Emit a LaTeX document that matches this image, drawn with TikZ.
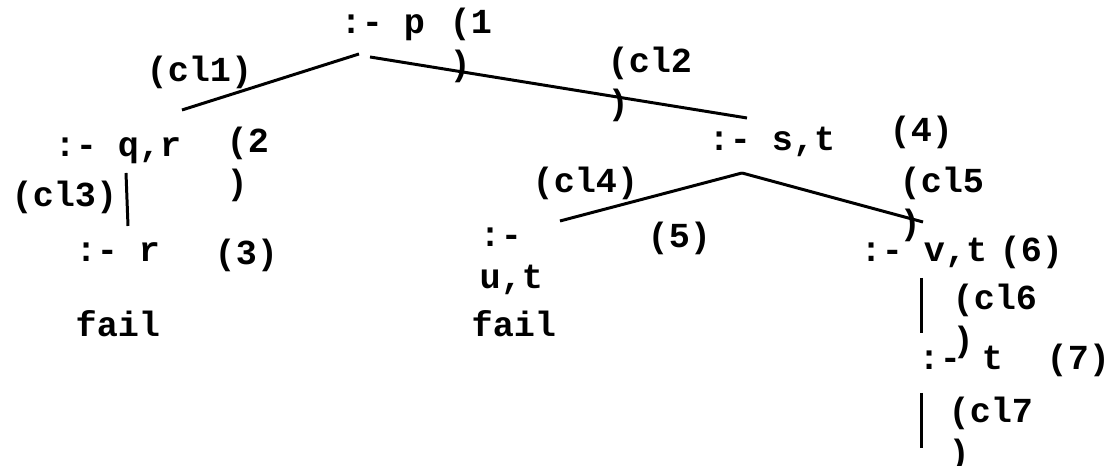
\documentclass[tikz,border=0pt]{standalone}
\usepackage{fontspec}
\setmonofont{Liberation Mono}
\usetikzlibrary{positioning}
\tikzset{
  txt/.style={anchor=base west, inner sep=0pt, font=\ttfamily\bfseries, align=left},
  branch/.style={draw=black, line width=0.85pt}
}

\begin{document}
\begin{tikzpicture}
\useasboundingbox (0,0) rectangle (11.11,-4.66);

% Goals (two-line texts sit on their last line)
\node[txt] (gp)  at (3.40,-0.34) {:- p};
\node[txt] (gqr) at (0.54,-1.57) {:- q,r};
\node[txt] (gst) at (7.08,-1.51) {:- s,t};
\node[txt] (gr)  at (0.75,-2.62) {:- r};
\node[txt] (gut) at (4.79,-2.89) {:-\\u,t};
\node[txt] (gvt) at (8.60,-2.62) {:- v,t};
\node[txt] (gt)  at (9.18,-3.70) {:- t};
\node[txt] (fr)  at (0.75,-3.37) {fail};
\node[txt] (fut) at (4.71,-3.37) {fail};

% Step numbers
\node[txt] (np)  at (4.49,-0.76) {(1\\)};
\node[txt] (nqr) at (2.26,-1.95) {(2\\)};
\node[txt] (nr)  at (2.14,-2.65) {(3)};
\node[txt] (nst) at (8.89,-1.42) {(4)};
\node[txt] (nut) at (6.47,-2.48) {(5)};
\node[txt] (nvt) at (9.99,-2.62) {(6)};
\node[txt] (nt)  at (10.46,-3.70) {(7)};

% Clause labels
\node[txt] (c1) at (1.46,-0.82) {(cl1)};
\node[txt] (c2) at (6.07,-1.15) {(cl2\\)};
\node[txt] (c3) at (0.11,-2.07) {(cl3)};
\node[txt] (c4) at (5.32,-1.93) {(cl4)};
\node[txt] (c5) at (8.99,-2.35) {(cl5\\)};
\node[txt] (c6) at (9.52,-3.52) {(cl6\\)};
\node[txt] (c7) at (9.48,-4.65) {(cl7\\)};

% Branch ends
\coordinate (p-l)   at (3.59,-0.54);
\coordinate (p-r)   at (3.70,-0.57);
\coordinate (qr-t)  at (1.82,-1.10);
\coordinate (qr-b)  at (1.26,-1.73);
\coordinate (r-t)   at (1.28,-2.26);
\coordinate (st-t)  at (7.47,-1.18);
\coordinate (st-b)  at (7.42,-1.73);
\coordinate (ut-t)  at (5.60,-2.21);
\coordinate (vt-t)  at (9.23,-2.22);
\coordinate (vt-b)  at (9.21,-2.78);
\coordinate (t-t)   at (9.21,-3.33);
\coordinate (t-b)   at (9.21,-3.93);
\coordinate (t-end) at (9.21,-4.48);

% Branches
\draw[branch] (p-l) -- (qr-t);
\draw[branch] (p-r) -- (st-t);
\draw[branch] (qr-b) -- (r-t);
\draw[branch] (st-b) -- (ut-t);
\draw[branch] (st-b) -- (vt-t);
\draw[branch] (vt-b) -- (t-t);
\draw[branch] (t-b) -- (t-end);
\end{tikzpicture}
\end{document}
